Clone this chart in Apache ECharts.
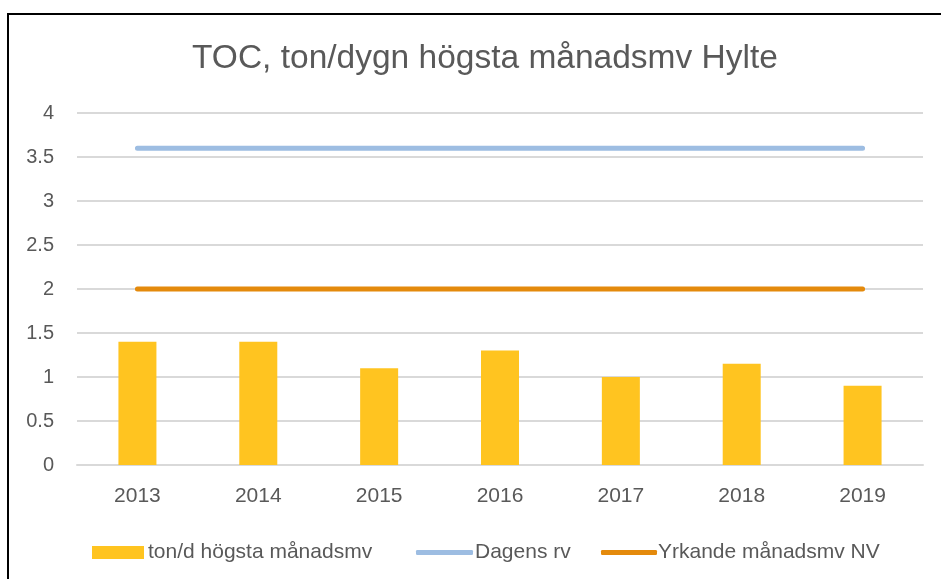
<!DOCTYPE html>
<html><head><meta charset="utf-8">
<script src="https://cdn.jsdelivr.net/npm/echarts@6/dist/echarts.min.js"></script>
<style>
html,body{margin:0;padding:0;background:#fff;}
#frame{position:absolute;left:7px;top:13px;width:1000px;height:700px;border-left:2px solid #000;border-top:2px solid #000;box-sizing:border-box;}
#c{position:absolute;left:0;top:0;width:941px;height:579px;}
</style></head>
<body>
<div id="frame"></div>
<div id="c"></div>
<script>
const categories = ['2013','2014','2015','2016','2017','2018','2019'];
const barValues = [1.4, 1.4, 1.1, 1.3, 1.0, 1.15, 0.9];
const dagensRv = [3.6, 3.6, 3.6, 3.6, 3.6, 3.6, 3.6];
const yrkandeNV = [2, 2, 2, 2, 2, 2, 2];
const seriesNames = ['ton/d högsta månadsmv', 'Dagens rv', 'Yrkande månadsmv NV'];
const yTicks = ['0','0.5','1','1.5','2','2.5','3','3.5','4'];

const font = 'Liberation Sans';
const txt = '#595959';
const chart = echarts.init(document.getElementById('c'), null, {renderer:'canvas'});
const lg = (name, left, w, h, icon, pad) => ({
  data: [{name: name, icon: icon}], left: left, top: 537, itemWidth: w, itemHeight: h,
  textStyle: {fontFamily: font, fontSize: 21, color: txt, padding: [0,0,0,pad]}
});
chart.setOption({
  backgroundColor: 'transparent',
  animation: false,
  title: {
    text: 'TOC, ton/dygn högsta månadsmv Hylte',
    left: 187, top: 37,
    textStyle: {fontFamily: font, fontSize: 33.5, fontWeight: 'normal', color: txt}
  },
  legend: [
    lg(seriesNames[0], 87, 52, 13, 'rect', -1),
    lg(seriesNames[1], 411, 57, 5, 'roundRect', -3),
    lg(seriesNames[2], 596, 56, 5, 'roundRect', -4)
  ],
  grid: {left: 77, right: 18, top: 113, bottom: 114, containLabel: false},
  xAxis: {
    type: 'category', data: categories,
    axisLine: {show: true, lineStyle: {color: '#d9d9d9', width: 2}},
    axisTick: {show: false},
    axisLabel: {fontFamily: font, fontSize: 21, color: txt, margin: 21}
  },
  yAxis: {
    type: 'value', min: 0, max: 4, interval: 0.5,
    axisLine: {show: false}, axisTick: {show: false},
    splitLine: {lineStyle: {color: '#d9d9d9', width: 2}},
    axisLabel: {fontFamily: font, fontSize: 20, color: txt, margin: 23,
      formatter: v => yTicks[Math.round(v*2)]}
  },
  series: [
    {name: seriesNames[0], type: 'bar', data: barValues, barWidth: 38,
     itemStyle: {color: '#ffc420'}},
    {name: seriesNames[1], type: 'line', data: dagensRv, symbol: 'none',
     lineStyle: {color: '#9dbde2', width: 5, cap: 'round'}, itemStyle:{color:'#9dbde2'}},
    {name: seriesNames[2], type: 'line', data: yrkandeNV, symbol: 'none',
     lineStyle: {color: '#e48a0c', width: 5, cap: 'round'}, itemStyle:{color:'#e48a0c'}}
  ]
});
</script>
</body></html>
